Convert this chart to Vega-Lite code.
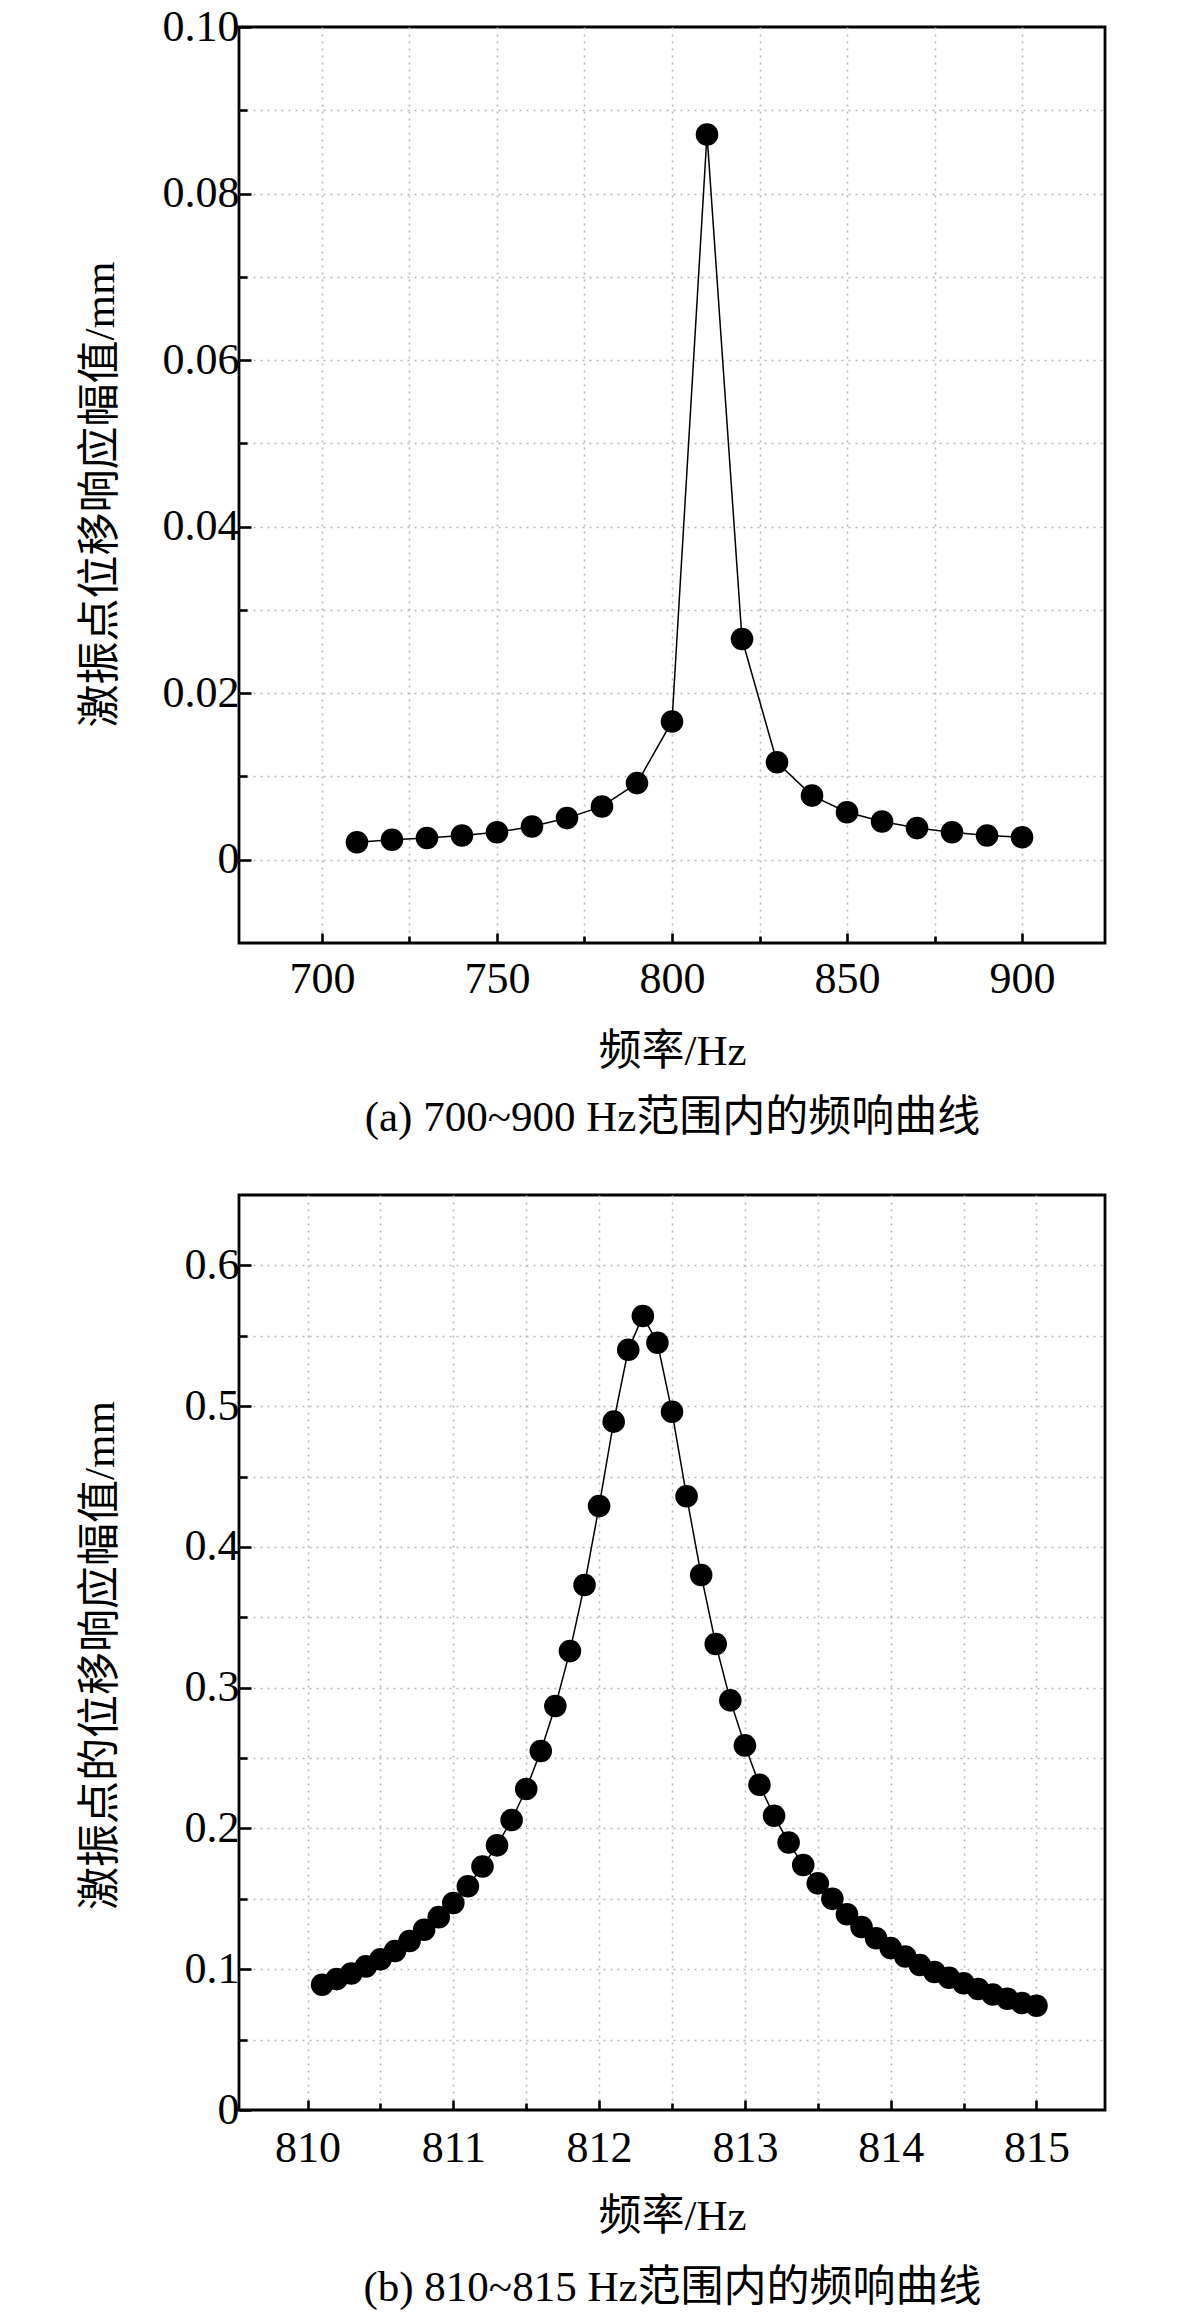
{
  "$schema": "https://vega.github.io/schema/vega-lite/v6.json",
  "padding": {"left": 77, "top": 3, "right": 0, "bottom": 0},
  "background": "white",
  "bounds": "flush",
  "spacing": 252,
  "config": {
    "font": "Liberation Serif, Noto Sans CJK SC",
    "view": {"stroke": "black", "strokeWidth": 2.8},
    "axis": {
      "domain": false,
      "labelFont": "Liberation Serif",
      "titleFont": "Liberation Serif, Noto Sans CJK SC",
      "labelFontSize": 44,
      "titleFontSize": 43,
      "labelColor": "black",
      "titleColor": "black",
      "titleFontWeight": "normal",
      "labelFlush": false,
      "labelOverlap": false,
      "labelLimit": 0,
      "tickColor": "black",
      "tickWidth": 2.6,
      "gridColor": "#b8b8b8",
      "gridDash": [2, 5],
      "gridWidth": 1.6
    }
  },
  "datasets": {
    "a": [
      {"f": 710, "amp": 0.0021}, {"f": 720, "amp": 0.0024}, {"f": 730, "amp": 0.0026},
      {"f": 740, "amp": 0.0029}, {"f": 750, "amp": 0.0033}, {"f": 760, "amp": 0.0040},
      {"f": 770, "amp": 0.0050}, {"f": 780, "amp": 0.0064}, {"f": 790, "amp": 0.0092},
      {"f": 800, "amp": 0.0166}, {"f": 810, "amp": 0.0871}, {"f": 820, "amp": 0.0265},
      {"f": 830, "amp": 0.0117}, {"f": 840, "amp": 0.0077}, {"f": 850, "amp": 0.0057},
      {"f": 860, "amp": 0.0046}, {"f": 870, "amp": 0.0038}, {"f": 880, "amp": 0.0033},
      {"f": 890, "amp": 0.0029}, {"f": 900, "amp": 0.0027}
    ],
    "b": [
      {"f": 810.1, "amp": 0.089}, {"f": 810.2, "amp": 0.093}, {"f": 810.3, "amp": 0.097},
      {"f": 810.4, "amp": 0.102}, {"f": 810.5, "amp": 0.107}, {"f": 810.6, "amp": 0.113},
      {"f": 810.7, "amp": 0.120}, {"f": 810.8, "amp": 0.128}, {"f": 810.9, "amp": 0.137},
      {"f": 811.0, "amp": 0.147}, {"f": 811.1, "amp": 0.159}, {"f": 811.2, "amp": 0.173},
      {"f": 811.3, "amp": 0.188}, {"f": 811.4, "amp": 0.206}, {"f": 811.5, "amp": 0.228},
      {"f": 811.6, "amp": 0.255}, {"f": 811.7, "amp": 0.287}, {"f": 811.8, "amp": 0.326},
      {"f": 811.9, "amp": 0.373}, {"f": 812.0, "amp": 0.429}, {"f": 812.1, "amp": 0.489},
      {"f": 812.2, "amp": 0.540}, {"f": 812.3, "amp": 0.564}, {"f": 812.4, "amp": 0.545},
      {"f": 812.5, "amp": 0.496}, {"f": 812.6, "amp": 0.436}, {"f": 812.7, "amp": 0.380},
      {"f": 812.8, "amp": 0.331}, {"f": 812.9, "amp": 0.291}, {"f": 813.0, "amp": 0.259},
      {"f": 813.1, "amp": 0.231}, {"f": 813.2, "amp": 0.209}, {"f": 813.3, "amp": 0.190},
      {"f": 813.4, "amp": 0.174}, {"f": 813.5, "amp": 0.161}, {"f": 813.6, "amp": 0.150},
      {"f": 813.7, "amp": 0.139}, {"f": 813.8, "amp": 0.130}, {"f": 813.9, "amp": 0.122},
      {"f": 814.0, "amp": 0.115}, {"f": 814.1, "amp": 0.109}, {"f": 814.2, "amp": 0.103},
      {"f": 814.3, "amp": 0.098}, {"f": 814.4, "amp": 0.094}, {"f": 814.5, "amp": 0.090},
      {"f": 814.6, "amp": 0.086}, {"f": 814.7, "amp": 0.082}, {"f": 814.8, "amp": 0.079},
      {"f": 814.9, "amp": 0.076}, {"f": 815.0, "amp": 0.074}
    ]
  },
  "vconcat": [
    {
      "width": 866,
      "height": 916,
      "data": {"name": "a"},
      "encoding": {
        "x": {
          "field": "f", "type": "quantitative",
          "scale": {"domain": [676.3, 923.7], "nice": false, "zero": false},
          "axis": {
            "values": [700, 725, 750, 775, 800, 825, 850, 875, 900],
            "labelExpr": "datum.value % 50 === 0 ? format(datum.value, 'd') : ''",
            "tickSize": {"condition": {"test": "datum.value % 50 === 0", "value": -10}, "value": -7},
            "labelBaseline": "alphabetic",
            "labelPadding": 59,
            "title": ["频率/Hz", "(a) 700~900 Hz范围内的频响曲线"],
            "titleX": 433,
            "titleY": 121,
            "titleAlign": "center",
            "titleBaseline": "alphabetic",
            "titleLineHeight": 66
          }
        },
        "y": {
          "field": "amp", "type": "quantitative",
          "scale": {"domain": [-0.01, 0.1], "nice": false, "zero": false},
          "axis": {
            "values": [0, 0.01, 0.02, 0.03, 0.04, 0.05, 0.06, 0.07, 0.08, 0.09, 0.1],
            "labelExpr": "abs(datum.value * 50 - round(datum.value * 50)) < 1e-6 ? (datum.value === 0 ? '0' : format(datum.value, '.2f')) : ''",
            "tickSize": {"condition": {"test": "abs(datum.value * 50 - round(datum.value * 50)) < 1e-6", "value": -12}, "value": -8},
            "gridOpacity": {"condition": {"test": "datum.value > 0.095", "value": 0}, "value": 1},
            "labelFont": "Liberation Serif",
            "labelFontSize": 44,
            "labelPadding": 12,
            "title": "激振点位移响应幅值/mm",
            "titleX": -139,
            "titleY": 467,
            "titleAngle": -90,
            "titleAlign": "center",
            "titleBaseline": "middle"
          }
        }
      },
      "layer": [
        {"mark": {"type": "line", "color": "black", "strokeWidth": 1.5}},
        {"mark": {"type": "circle", "color": "black", "opacity": 1, "size": 510}}
      ]
    },
    {
      "width": 866,
      "height": 915,
      "data": {"name": "b"},
      "encoding": {
        "x": {
          "field": "f", "type": "quantitative",
          "scale": {"domain": [809.53, 815.47], "nice": false, "zero": false},
          "axis": {
            "values": [810, 810.5, 811, 811.5, 812, 812.5, 813, 813.5, 814, 814.5, 815],
            "labelExpr": "abs(datum.value - round(datum.value)) < 1e-6 ? format(datum.value, 'd') : ''",
            "tickSize": {"condition": {"test": "abs(datum.value - round(datum.value)) < 1e-6", "value": -10}, "value": -7},
            "labelBaseline": "alphabetic",
            "labelPadding": 61,
            "title": ["频率/Hz", "(b) 810~815 Hz范围内的频响曲线"],
            "titleX": 433,
            "titleY": 119,
            "titleAlign": "center",
            "titleBaseline": "alphabetic",
            "titleLineHeight": 71
          }
        },
        "y": {
          "field": "amp", "type": "quantitative",
          "scale": {"domain": [0, 0.65], "nice": false, "zero": false},
          "axis": {
            "values": [0, 0.05, 0.1, 0.15, 0.2, 0.25, 0.3, 0.35, 0.4, 0.45, 0.5, 0.55, 0.6],
            "labelExpr": "abs(datum.value * 10 - round(datum.value * 10)) < 1e-6 ? (datum.value === 0 ? '0' : format(datum.value, '.1f')) : ''",
            "tickSize": {"condition": {"test": "abs(datum.value * 10 - round(datum.value * 10)) < 1e-6", "value": -12}, "value": -8},
            "gridOpacity": {"condition": {"test": "datum.value < 0.01", "value": 0}, "value": 1},
            "labelFont": "Liberation Serif",
            "labelFontSize": 44,
            "labelPadding": 12,
            "title": "激振点的位移响应幅值/mm",
            "titleX": -139,
            "titleY": 460,
            "titleAngle": -90,
            "titleAlign": "center",
            "titleBaseline": "middle"
          }
        }
      },
      "layer": [
        {"mark": {"type": "line", "color": "black", "strokeWidth": 1.5}},
        {"mark": {"type": "circle", "color": "black", "opacity": 1, "size": 510}}
      ]
    }
  ]
}
